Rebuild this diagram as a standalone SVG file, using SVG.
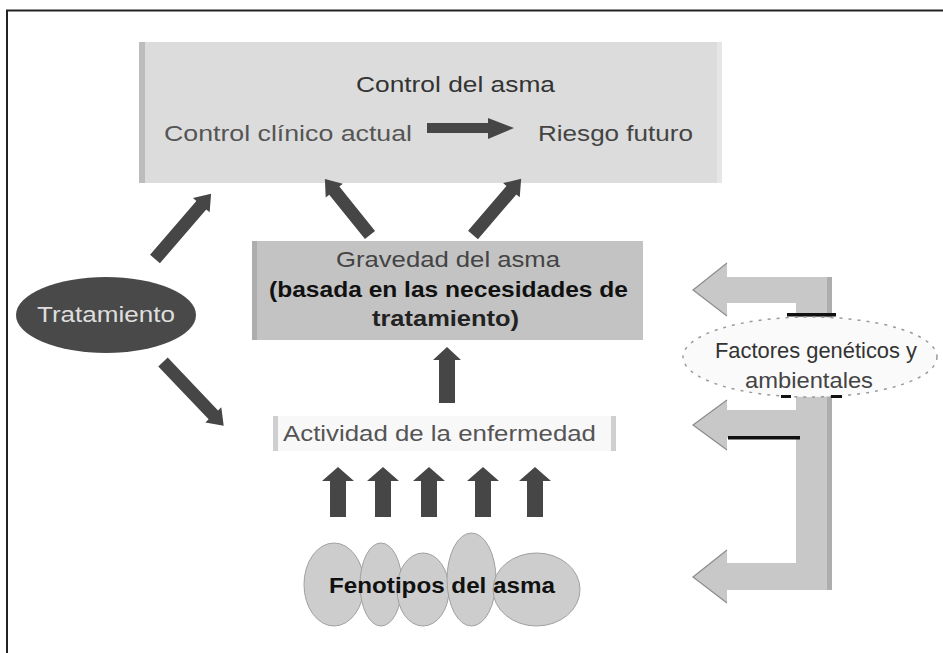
<svg xmlns="http://www.w3.org/2000/svg" width="943" height="653" viewBox="0 0 943 653">
<style>
text{font-family:"Liberation Sans",Arial,sans-serif;font-size:22px}
.arr{fill:#464646}
.b{font-weight:bold}
</style>
<rect x="0" y="0" width="943" height="653" fill="#ffffff"/>
<g id="frame">
<line x1="6" y1="10.5" x2="943" y2="10.5" stroke="#222" stroke-width="2"/>
<line x1="7" y1="10" x2="7" y2="653" stroke="#222" stroke-width="2"/>
</g>
<g id="control-del-asma">
<rect x="139" y="42" width="583" height="141" fill="#dcdcdc"/>
<rect x="139" y="42" width="6" height="141" fill="#bcbcbc"/>
<rect x="717" y="42" width="5" height="141" fill="#e6e6e6"/>
<text x="356" y="92" textLength="199" lengthAdjust="spacingAndGlyphs" fill="#333">Control del asma</text>
<text x="164" y="141" textLength="248" lengthAdjust="spacingAndGlyphs" fill="#555">Control clínico actual</text>
<text x="538" y="141" textLength="155" lengthAdjust="spacingAndGlyphs" fill="#444">Riesgo futuro</text>
<rect x="427" y="123" width="63" height="10" class="arr"/>
<polygon points="488,118 514,128 488,139" class="arr"/>
</g>
<g id="gravedad">
<rect x="252" y="241" width="391" height="99" fill="#c3c3c3"/>
<rect x="252" y="241" width="5" height="99" fill="#adadad"/>
<text x="336" y="267" textLength="224" lengthAdjust="spacingAndGlyphs" fill="#444">Gravedad del asma</text>
<text x="269" y="297" textLength="359" lengthAdjust="spacingAndGlyphs" fill="#111" class="b">(basada en las necesidades de</text>
<text x="372" y="326" textLength="147" lengthAdjust="spacingAndGlyphs" fill="#222" class="b">tratamiento)</text>
</g>
<g id="tratamiento">
<ellipse cx="106" cy="315" rx="90" ry="38" fill="#494949"/>
<text x="37" y="322" textLength="138" lengthAdjust="spacingAndGlyphs" fill="#dedede">Tratamiento</text>
</g>
<g id="actividad">
<rect x="273" y="416" width="343" height="35" fill="#f8f8f8"/>
<rect x="273" y="416" width="5" height="35" fill="#cfcfcf"/>
<rect x="611" y="416" width="5" height="35" fill="#cfcfcf"/>
<text x="283" y="441" textLength="313" lengthAdjust="spacingAndGlyphs" fill="#555">Actividad de la enfermedad</text>
</g>
<g id="fenotipos">
<g fill="#cdcdcd" stroke="#a0a0a0" stroke-width="1">
<ellipse cx="334" cy="584.5" rx="30" ry="41.5"/>
<ellipse cx="381" cy="584.5" rx="21" ry="41.5"/>
<ellipse cx="423" cy="589.5" rx="26" ry="36.5"/>
<ellipse cx="471.5" cy="579.5" rx="24.5" ry="46.5"/>
<ellipse cx="536.5" cy="589.5" rx="43.5" ry="36.5"/>
</g>
<text x="329" y="593" textLength="226" lengthAdjust="spacingAndGlyphs" fill="#111" class="b">Fenotipos del asma</text>
</g>
<g id="connectors">
<polygon class="arr" transform="translate(155,259) rotate(-49.3)" points="0,-6.5 71,-6.5 71,-11 86,0 71,11 71,6.5 0,6.5"/>
<polygon class="arr" transform="translate(370,235) rotate(-128.8)" points="0,-6.5 57,-6.5 57,-11 72,0 57,11 57,6.5 0,6.5"/>
<polygon class="arr" transform="translate(473,235) rotate(-49.4)" points="0,-6.5 59,-6.5 59,-11 74,0 59,11 59,6.5 0,6.5"/>
<polygon class="arr" transform="translate(163,362) rotate(46.4)" points="0,-6.5 73,-6.5 73,-11 88,0 73,11 73,6.5 0,6.5"/>
<polygon class="arr" points="439,403 439,360 433,360 447,347 461,360 455,360 455,403"/>
<polygon class="arr" points="330,517 330,481 322,481 338,467 354,481 346,481 346,517"/>
<polygon class="arr" points="375,517 375,481 367,481 383,467 399,481 391,481 391,517"/>
<polygon class="arr" points="421,517 421,481 413,481 429,467 445,481 437,481 437,517"/>
<polygon class="arr" points="475,517 475,481 467,481 483,467 499,481 491,481 491,517"/>
<polygon class="arr" points="527,517 527,481 519,481 535,467 551,481 543,481 543,517"/>
<g id="bracket">
<polygon fill="#c8c8c8" points="693,290 727,263 727,277 832,277 832,590 727,590 727,603 693,577 727,550 727,563 796,563 796,438 727,438 727,450 693,425 727,400 727,410 796,410 796,303 727,303 727,316"/>
<rect x="827" y="277" width="5" height="313" fill="#adadad"/>
<g fill="none" stroke="#8c8c8c" stroke-width="1.2">
<polyline points="727,263 693,290 727,316"/>
<polyline points="727,400 693,425 727,450"/>
<polyline points="727,550 693,577 727,603"/>
</g>
</g>
</g>
<g id="factores">
<rect x="787" y="313" width="49" height="3.5" fill="#111"/>
<rect x="728" y="436" width="72" height="3.5" fill="#111"/>
<ellipse cx="810" cy="357" rx="127" ry="40" fill="#fafafa" stroke="#9a9a9a" stroke-width="1.5" stroke-dasharray="3 6"/>
<rect x="781" y="395" width="10" height="3" fill="#111"/>
<rect x="831" y="395" width="11" height="3" fill="#111"/>
<text x="715" y="358" textLength="202" lengthAdjust="spacingAndGlyphs" fill="#333">Factores genéticos y</text>
<text x="745" y="388" textLength="128" lengthAdjust="spacingAndGlyphs" fill="#444">ambientales</text>
</g>
</svg>
